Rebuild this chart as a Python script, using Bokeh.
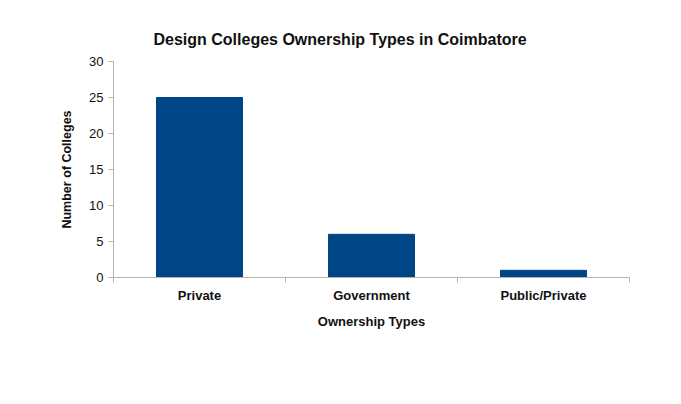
from bokeh.plotting import figure
from bokeh.models import FixedTicker, Range1d
from bokeh.embed import file_html
from bokeh.resources import INLINE

categories = ["Private", "Government", "Public/Private"]
counts = [25, 6, 1]
y_ticks = [0, 5, 10, 15, 20, 25, 30]

centers = [i + 0.5 for i in range(len(categories))]
bounds = list(range(len(categories) + 1))

p = figure(width=665, height=388, output_backend="svg", toolbar_location=None,
           x_range=Range1d(0, len(categories)), y_range=Range1d(0, 30),
           min_border_left=113, min_border_right=36, min_border_top=61, min_border_bottom=111)
p.outline_line_color = None
p.grid.visible = False

p.vbar(x=centers, top=counts, width=0.5, color="#004586")

font = "Liberation Sans"
p.title.text = "Design Colleges Ownership Types in Coimbatore"
p.title.align = "left"
p.title.text_font = font
p.title.text_font_size = "16px"
p.title.text_font_style = "bold"
p.title.text_color = "#111111"
p.title.offset = 40
p.title.standoff = 28

xa = p.xaxis[0]
xa.ticker = FixedTicker(ticks=centers, minor_ticks=bounds)
xa.major_label_overrides = {c: n for c, n in zip(centers, categories)}
xa.major_tick_line_color = None
xa.minor_tick_line_color = "#b3b3b3"
xa.minor_tick_out = 5
xa.minor_tick_in = 0
xa.axis_line_color = "#b3b3b3"
xa.major_label_text_font = font
xa.major_label_text_font_style = "bold"
xa.major_label_text_font_size = "13px"
xa.major_label_text_color = "#111111"
xa.major_label_standoff = 4
xa.axis_label = "Ownership Types"
xa.axis_label_text_font = font
xa.axis_label_text_font_style = "bold"
xa.axis_label_text_font_size = "13px"
xa.axis_label_text_color = "#111111"
xa.axis_label_standoff = 8

ya = p.yaxis[0]
ya.ticker = FixedTicker(ticks=y_ticks)
ya.minor_tick_line_color = None
ya.major_tick_out = 5
ya.major_tick_in = 0
ya.major_tick_line_color = "#b3b3b3"
ya.axis_line_color = "#b3b3b3"
ya.major_label_text_font = font
ya.major_label_text_font_size = "13px"
ya.major_label_text_color = "#111111"
ya.major_label_standoff = 5
ya.axis_label = "Number of Colleges"
ya.axis_label_text_font = font
ya.axis_label_text_font_style = "bold"
ya.axis_label_text_font_size = "12.5px"
ya.axis_label_text_color = "#111111"
ya.axis_label_standoff = 12

open("out.html", "w").write(file_html(p, INLINE))
